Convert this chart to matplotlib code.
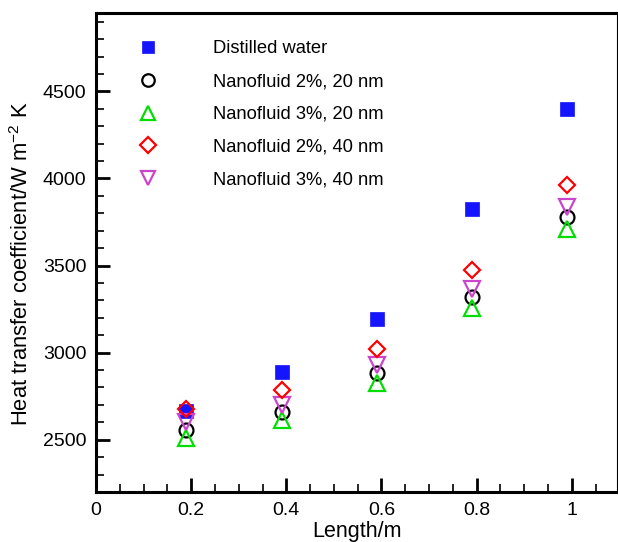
import matplotlib
matplotlib.use("Agg")
import matplotlib.pyplot as plt
from matplotlib.ticker import MultipleLocator

plt.rcParams['font.family'] = ['Liberation Sans', 'DejaVu Sans']
plt.rcParams['mathtext.fontset'] = 'custom'
plt.rcParams['mathtext.rm'] = 'Liberation Sans'
plt.rcParams['mathtext.it'] = 'Liberation Sans'

length = [0.19, 0.39, 0.59, 0.79, 0.99]
distilled = [2665, 2888, 3194, 3825, 4396]
nf2_20 = [2557, 2657, 2882, 3318, 3777]
nf3_20 = [2510, 2611, 2825, 3255, 3708]
nf2_40 = [2678, 2787, 3020, 3475, 3962]
nf3_40 = [2601, 2697, 2930, 3364, 3838]
labels = ["Distilled water", "Nanofluid 2%, 20 nm", "Nanofluid 3%, 20 nm",
          "Nanofluid 2%, 40 nm", "Nanofluid 3%, 40 nm"]

fig = plt.figure(figsize=(6.18, 5.42), dpi=100)
ax = fig.add_axes([96/618, 1-492/542, (617-96)/618, (492-13)/542])

ax.plot(length, distilled, ls='none', marker='s', ms=9.5, mfc='#1414ff', mec='#1414ff', mew=0.5, label=labels[0], zorder=3)
ax.plot(length, nf2_20, ls='none', marker='o', ms=10, mfc='none', mec='black', mew=1.6, label=labels[1], zorder=4)
ax.plot(length, nf3_20, ls='none', marker='^', ms=11, mfc='none', mec='#00dd00', mew=1.6, label=labels[2], zorder=4)
ax.plot(length, nf2_40, ls='none', marker='D', ms=8.5, mfc='none', mec='#ff0000', mew=1.6, label=labels[3], zorder=5)
ax.plot(length, nf3_40, ls='none', marker='v', ms=11, mfc='none', mec='#cc44cc', mew=1.6, label=labels[4], zorder=4)

ax.set_xlim(0, 1.095)
ax.set_ylim(2200, 4950)
ax.xaxis.set_major_locator(MultipleLocator(0.2))
ax.xaxis.set_minor_locator(MultipleLocator(0.05))
ax.yaxis.set_major_locator(MultipleLocator(500))
ax.yaxis.set_minor_locator(MultipleLocator(100))
ax.set_xticks([0, 0.2, 0.4, 0.6, 0.8, 1.0])
ax.set_xticklabels(['0', '0.2', '0.4', '0.6', '0.8', '1'])
ax.set_yticks([2500, 3000, 3500, 4000, 4500])

ax.tick_params(which='major', direction='in', length=10, width=2, labelsize=14, pad=7,
               top=False, right=False)
ax.tick_params(which='minor', direction='in', length=5.5, width=1.2, top=False, right=False)

for s in ['left', 'bottom', 'top']:
    ax.spines[s].set_linewidth(2.2)
ax.spines['right'].set_linewidth(0.8)

ax.set_xlabel('Length/m', fontsize=15.5, labelpad=1.5)
ax.set_ylabel('Heat transfer coefficient/W m$^{\\mathrm{\u2212}2}$ K', fontsize=15.8)
ax.yaxis.set_label_coords(-0.121, 0.476)

ax.legend(loc='upper left', bbox_to_anchor=(0.05, 0.958), frameon=False, fontsize=13.2,
          handlelength=2, handletextpad=2.55, labelspacing=0.86, borderaxespad=0,
          markerscale=0.9)

fig.savefig('out.png', dpi=100)
